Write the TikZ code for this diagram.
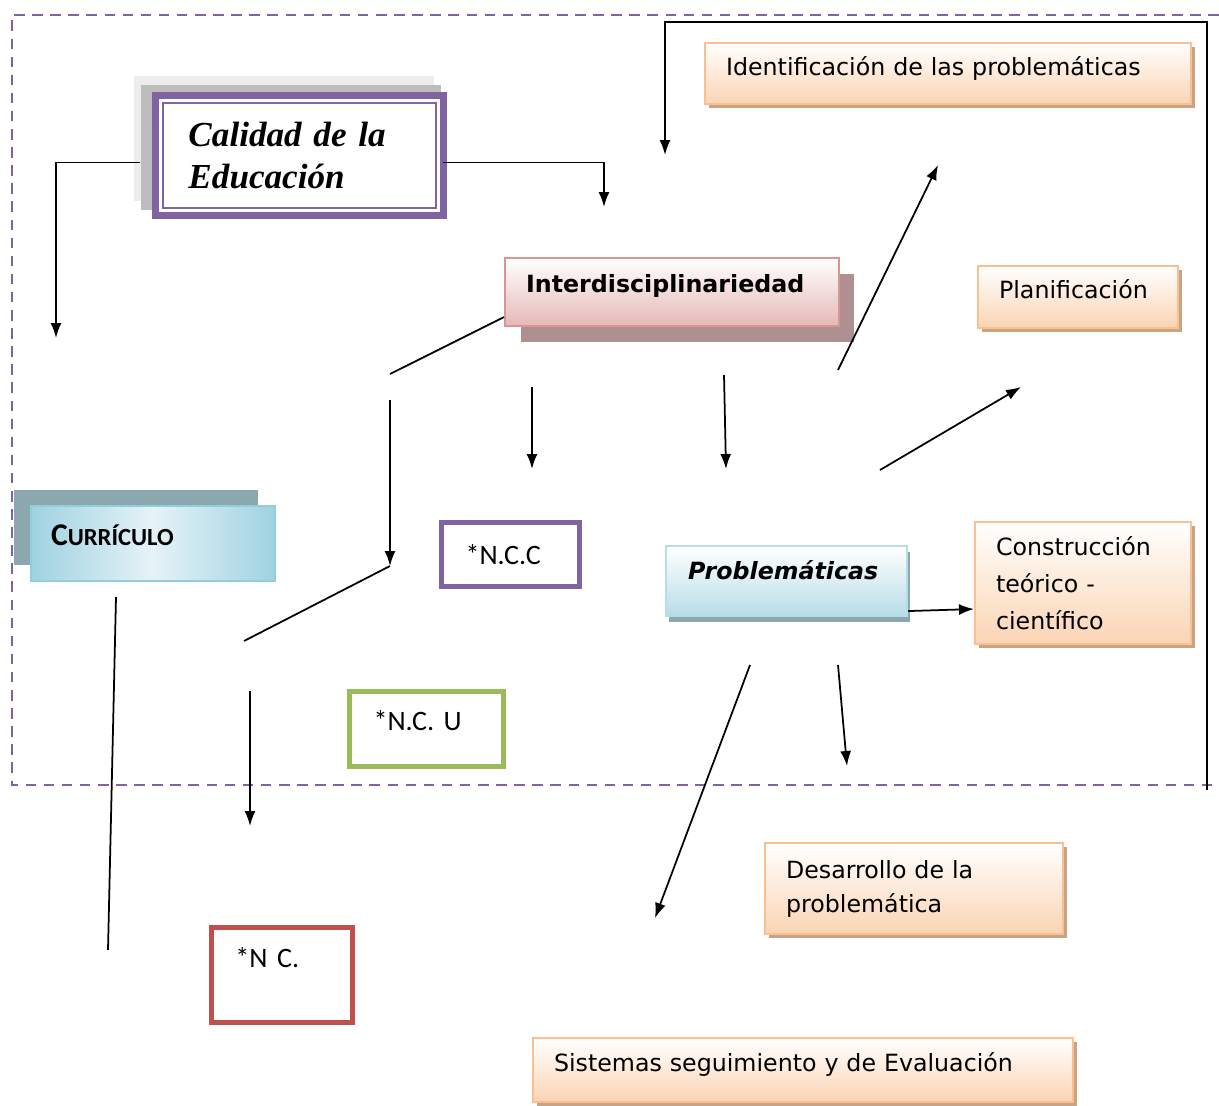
\documentclass[tikz,border=0pt]{standalone}
\usepackage{fontspec}
\setmainfont{DejaVu Sans}
\newfontfamily\timesfont{Liberation Serif}
\newfontfamily\calibrifont{Carlito}
\usetikzlibrary{arrows.meta,shadows}

\definecolor{dashpurple}{HTML}{8064A2}
\definecolor{orangeline}{HTML}{FAC090}
\definecolor{orangefill}{HTML}{FBD4B4}
\definecolor{orangeshadow}{HTML}{C9A384}
\definecolor{roseline}{HTML}{D99594}
\definecolor{rosefill}{HTML}{E5B8B7}
\definecolor{roseshadow}{HTML}{AF8F8F}
\definecolor{blueline}{HTML}{92CDDC}
\definecolor{bluefill}{HTML}{B7DDE8}
\definecolor{bluedark}{HTML}{9FD2E0}
\definecolor{blueshadow}{HTML}{8CA8AF}
\definecolor{ncgreen}{HTML}{9BBB59}
\definecolor{ncred}{HTML}{C0504D}

\tikzset{
  orangebox/.style={draw=orangeline, line width=1.2pt, top color=white, bottom color=orangefill,
    general shadow={fill=orangeshadow, shadow xshift=0.08cm, shadow yshift=-0.08cm},
    anchor=north west, align=left, inner xsep=0.42cm,
    font=\fontsize{13.5}{16}\selectfont},
  ncbox/.style={line width=0.1cm, fill=white, anchor=north west, align=left, inner xsep=0.48cm,
    font=\calibrifont\fontsize{16}{19}\selectfont}
}

\begin{document}
\begin{tikzpicture}[x=0.02cm, y=-0.02cm, >={Latex[length=0.3cm, width=0.22cm]}, line width=1pt]
\useasboundingbox (0,0) rectangle (1219,1105);

% dashed frame
\draw [dashpurple, line width=1.4pt, dash pattern=on 6pt off 4.3pt] (1219,15) -- (12,15) -- (12,785) -- (1219,785);

% title
\node [draw=dashpurple, line width=0.14cm, fill=white, anchor=north west,
  minimum width=5.76cm, minimum height=2.4cm, text width=4.44cm, inner xsep=0.66cm, align=left,
  general shadow={fill=black!7, shadow xshift=-0.3cm, shadow yshift=0.32cm, shadow scale=1.04},
  general shadow={fill=black!26, shadow xshift=-0.16cm, shadow yshift=0.16cm, shadow scale=1.04},
  font=\timesfont\bfseries\itshape\fontsize{20}{24.4}\selectfont] (calidad) at (152,92) {Calidad de la\\Educación};
\draw [dashpurple, line width=1.2pt] ([shift={(11,11)}]calidad.north west) rectangle ([shift={(-11,-11)}]calidad.south east);

\node [draw=roseline, line width=1.2pt, top color=white, bottom color=rosefill, anchor=north west,
  minimum width=6.68cm, minimum height=1.36cm, text width=5.84cm, inner xsep=0.42cm, align=left, text depth=0.35cm,
  general shadow={fill=roseshadow, shadow xshift=0.31cm, shadow yshift=-0.32cm},
  font=\bfseries\fontsize{13.5}{16}\selectfont] (inter) at (504,257) {Interdisciplinariedad};

\node [draw=blueline, line width=1.2pt, left color=bluedark, right color=bluedark, middle color=bluefill!35,
  anchor=north west, minimum width=4.88cm, minimum height=1.5cm, text width=4.08cm, inner xsep=0.4cm, align=left, text depth=0.35cm,
  general shadow={fill=blueshadow, shadow xshift=-0.34cm, shadow yshift=0.32cm},
  font=\calibrifont\bfseries] (curr) at (30,505) {{\fontsize{18}{20}\selectfont C}{\fontsize{14}{20}\selectfont URRÍCULO}};

\node [draw=bluefill, line width=1.2pt, top color=white, bottom color=bluefill, anchor=north west,
  minimum width=4.82cm, minimum height=1.4cm, text width=3.94cm, inner xsep=0.44cm, align=left, text depth=0.45cm,
  general shadow={fill=blueshadow, shadow xshift=0.06cm, shadow yshift=-0.12cm},
  font=\bfseries\itshape\fontsize{13.5}{16}\selectfont] (prob) at (665,545) {Problemáticas};

% orange boxes
\node [orangebox, minimum width=9.72cm, minimum height=1.22cm, text width=8.88cm, text depth=0.31cm] (ident) at (704,42) {Identificación de las problemáticas};
\node [orangebox, minimum width=4cm, minimum height=1.24cm, text width=3.16cm, text depth=0.31cm] (plan) at (977,265) {Planificación};
\node [orangebox, minimum width=4.32cm, minimum height=2.44cm, text width=3.48cm,
  font=\fontsize{13.5}{21}\selectfont] (constr) at (974,521) {Construcción\\teórico -\\científico};
\node [orangebox, minimum width=5.96cm, minimum height=1.82cm, text width=5.12cm,
  font=\fontsize{13.5}{19.3}\selectfont] (desarr) at (764,842) {Desarrollo de la\\problemática};
\node [orangebox, minimum width=10.8cm, minimum height=1.28cm, text width=9.96cm, text depth=0.31cm] (sistemas) at (532,1037) {Sistemas seguimiento y de Evaluación};

% N.C. boxes
\node [ncbox, draw=dashpurple, minimum width=2.76cm, minimum height=1.28cm, text width=1.8cm] (ncc) at (439,520) {*N.C.C};
\node [ncbox, draw=ncgreen, minimum width=3.08cm, minimum height=1.5cm, text width=2.12cm, text depth=0.34cm] (ncu) at (347,689) {*N.C. U};
\node [ncbox, draw=ncred, minimum width=2.82cm, minimum height=1.9cm, text width=1.86cm, text depth=0.7cm] (nc) at (209,925) {*N C.};

% free ends
\coordinate (currarrow) at (56,338);
\coordinate (interarrow) at (604,207);
\coordinate (framestart) at (1207,790);
\coordinate (frametop) at (665,22);
\coordinate (frameend) at (665,155);
\coordinate (leftA) at (390,374);
\coordinate (leftB) at (390,400);
\coordinate (leftC) at (390,566);
\coordinate (leftD) at (244,641);
\coordinate (leftE) at (250,691);
\coordinate (leftF) at (250,826);
\coordinate (midA) at (532,387);
\coordinate (midB) at (532,469);
\coordinate (probA) at (724,375);
\coordinate (probB) at (726,469);
\coordinate (identA) at (838,370);
\coordinate (identB) at (938,165);
\coordinate (planA) at (880,470);
\coordinate (planB) at (1021,387);
\coordinate (sistA) at (750,665);
\coordinate (sistB) at (655,918);
\coordinate (desA) at (838,665);
\coordinate (desB) at (847,766);
\coordinate (currA) at (116,597);
\coordinate (currB) at (108,950);

% connectors
\draw [->] ([shift={(-12,7)}]calidad.west) -| (currarrow);
\draw [->] ([shift={(-4,7)}]calidad.east) -| (interarrow);
\draw [->] (framestart) |- (frametop) -- (frameend);
\draw ([shift={(0,-10)}]inter.south west) -- (leftA);
\draw [->] (leftB) -- (leftC);
\draw (leftC) -- (leftD);
\draw [->] (leftE) -- (leftF);
\draw [->] (midA) -- (midB);
\draw [->] (probA) -- (probB);
\draw [->] (identA) -- (identB);
\draw [->] (planA) -- (planB);
\draw [->] ([shift={(0,30)}]prob.east) -- ([shift={(0,26)}]constr.west);
\draw [->] (sistA) -- (sistB);
\draw [->] (desA) -- (desB);
\draw (currA) -- (currB);
\end{tikzpicture}
\end{document}
